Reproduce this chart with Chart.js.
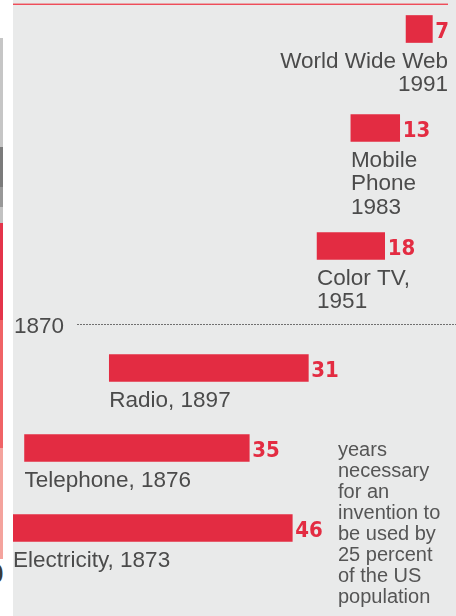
<!DOCTYPE html>
<html>
<head>
<meta charset="utf-8">
<script src="https://cdn.jsdelivr.net/npm/chart.js@4/dist/chart.umd.min.js"></script>
<style>
  html, body { margin: 0; padding: 0; background: #ffffff; overflow: hidden; }
  body { width: 456px; height: 616px; position: relative; }
  /* coloured edge strip of the neighbouring panel */
  #strip {
    position: absolute; left: 0; top: 0; width: 3px; height: 616px;
    background: linear-gradient(to bottom,
      #ffffff 0 38px,
      #c6c6c6 38px 147px,
      #7b7b7b 147px 187px,
      #989898 187px 207px,
      #c2c2c2 207px 223px,
      #e4344a 223px 320px,
      #f06366 320px 448px,
      #f4a39d 448px 559px,
      #ffffff 559px 616px);
  }
  #edgeDigit {
    position: absolute; left: -12px; top: 560px;
    font: bold 28px "Liberation Sans", Arial, sans-serif; line-height: 1;
    color: #3a3a3a;
  }
  #panel {
    position: absolute; left: 13px; top: 0; width: 443px; height: 616px;
    background: #e9eaea;
  }
  #chart { display: block; }
</style>
</head>
<body>
<div id="strip"></div>
<div id="edgeDigit">0</div>
<div id="panel"><canvas id="chart" width="443" height="616"></canvas></div>
<script>
// Years needed for each invention to reach a quarter of the US population
const inventions = ['World Wide Web', 'Mobile Phone', 'Color TV', 'Radio', 'Telephone', 'Electricity'];
const introduced = [1991, 1983, 1951, 1897, 1876, 1873];
const yearsTo25Percent = [7, 13, 18, 31, 35, 46];
// row captions as printed under each bar
const tickLabels = [
  ['World Wide Web', '1991'],
  ['Mobile', 'Phone', '1983'],
  ['Color TV,', '1951'],
  ['Radio, 1897'],
  ['Telephone, 1876'],
  ['Electricity, 1873']
];
// which half of the timeline each row sits in (split by the 1870 rule)
const era = ['modern', 'modern', 'modern', 'early', 'early', 'early'];
// blank lead before each bar, in years on its half's scale
const barLead = [104.7, 90, 81, 17.5, 4.3, 0];
const dividerLabel = '1870';
const noteLines = ['years', 'necessary', 'for an', 'invention to', 'be used by', '25 percent', 'of the US', 'population'];

const RED = '#e32c42';
const INK = '#4b4b4b';
const LABEL_FONT = '22.5px "Liberation Sans", Arial, Helvetica, sans-serif';
const VALUE_FONT = 'bold 22px "DejaVu Sans Condensed", "Liberation Sans Narrow", "Liberation Sans", sans-serif';
const NOTE_FONT = '20px "Liberation Sans", Arial, Helvetica, sans-serif';
const LINE_H = 23.5;

// vertical layout: each row is pushed down by the height of its caption block,
// with extra room where the timeline rule separates the two halves
const rowCenters = [];
{
  let c = 29;
  for (let i = 0; i < inventions.length; i++) {
    rowCenters.push(c);
    c += 61 + 19 * tickLabels[i].length;
    if (i + 1 < era.length && era[i + 1] !== era[i]) c += 23;
  }
}

function rowsFor(which) {
  const out = [];
  inventions.forEach((name, i) => {
    if (era[i] === which) {
      out.push({ x: [barLead[i], barLead[i] + yearsTo25Percent[i]], y: rowCenters[i], row: i });
    }
  });
  return out;
}

const decor = {
  id: 'decor',
  beforeDatasetsDraw(chart) {
    const { ctx, chartArea, scales } = chart;
    ctx.save();
    // header rule
    ctx.fillStyle = '#eaa6aa';
    ctx.fillRect(0, 3, 435, 1);
    ctx.fillStyle = '#ef4d5a';
    ctx.fillRect(0, 4, 435, 1);

    // timeline rule between the two halves
    const firstEarly = era.indexOf('early');
    const y = Math.round(scales.y.getPixelForValue(rowCenters[firstEarly]) - 44) + 0.5;
    ctx.strokeStyle = '#707070';
    ctx.lineWidth = 1;
    ctx.setLineDash([2, 1]);
    ctx.beginPath();
    ctx.moveTo(64, y);
    ctx.lineTo(chartArea.right, y);
    ctx.stroke();
    ctx.setLineDash([]);
    ctx.font = LABEL_FONT;
    ctx.fillStyle = INK;
    ctx.textAlign = 'left';
    ctx.textBaseline = 'alphabetic';
    ctx.fillText(dividerLabel, 1, y + 8);
    ctx.restore();
  },
  afterDatasetsDraw(chart) {
    const { ctx, chartArea } = chart;
    ctx.save();
    ctx.textBaseline = 'alphabetic';
    chart.data.datasets.forEach((ds, di) => {
      const meta = chart.getDatasetMeta(di);
      meta.data.forEach((bar, j) => {
        const i = ds.data[j].row;
        const end = Math.max(bar.x, bar.base);
        const start = Math.max(Math.min(bar.x, bar.base), 0);

        // value at the end of the bar
        ctx.font = VALUE_FONT;
        ctx.fillStyle = RED;
        ctx.textAlign = 'left';
        const valueText = String(yearsTo25Percent[i]);
        ctx.fillText(valueText, end + 3, bar.y + 8.5);
        const valueRight = end + 3 + ctx.measureText(valueText).width;

        // caption under the bar
        ctx.font = LABEL_FONT;
        ctx.fillStyle = INK;
        const lines = tickLabels[i];
        const widest = Math.max(...lines.map(t => ctx.measureText(t).width));
        let x = start, align = 'left';
        if (start + widest > chartArea.right) { x = valueRight - 1; align = 'right'; }
        ctx.textAlign = align;
        lines.forEach((t, k) => ctx.fillText(t, x, bar.y + 38.5 + k * LINE_H));
      });
    });

    // explanatory note beside the longest bar
    const last = inventions.length - 1;
    const base = chart.scales.y.getPixelForValue(rowCenters[last]) - 72.5;
    ctx.font = NOTE_FONT;
    ctx.fillStyle = '#555555';
    ctx.textAlign = 'left';
    noteLines.forEach((t, k) => ctx.fillText(t, 325, base + k * 21));
    ctx.restore();
  }
};

new Chart(document.getElementById('chart'), {
  type: 'bar',
  data: {
    datasets: [
      { label: 'modern', data: rowsFor('modern'), xAxisID: 'xTop', backgroundColor: RED,
        borderWidth: 0, barThickness: 27, grouped: false },
      { label: 'early', data: rowsFor('early'), xAxisID: 'xBottom', backgroundColor: RED,
        borderWidth: 0, barThickness: 27, grouped: false }
    ]
  },
  options: {
    indexAxis: 'y',
    responsive: false,
    animation: false,
    layout: { padding: 0 },
    scales: {
      y: { type: 'linear', min: 0, max: 616, reverse: true, offset: false, display: false },
      xTop: { type: 'linear', axis: 'x', position: 'top', min: 0, max: 118, display: false },
      xBottom: { type: 'linear', axis: 'x', position: 'bottom', min: 2.5, max: 71.5, display: false }
    },
    plugins: {
      legend: { display: false },
      tooltip: { enabled: false }
    }
  },
  plugins: [decor]
});
</script>
</body>
</html>
